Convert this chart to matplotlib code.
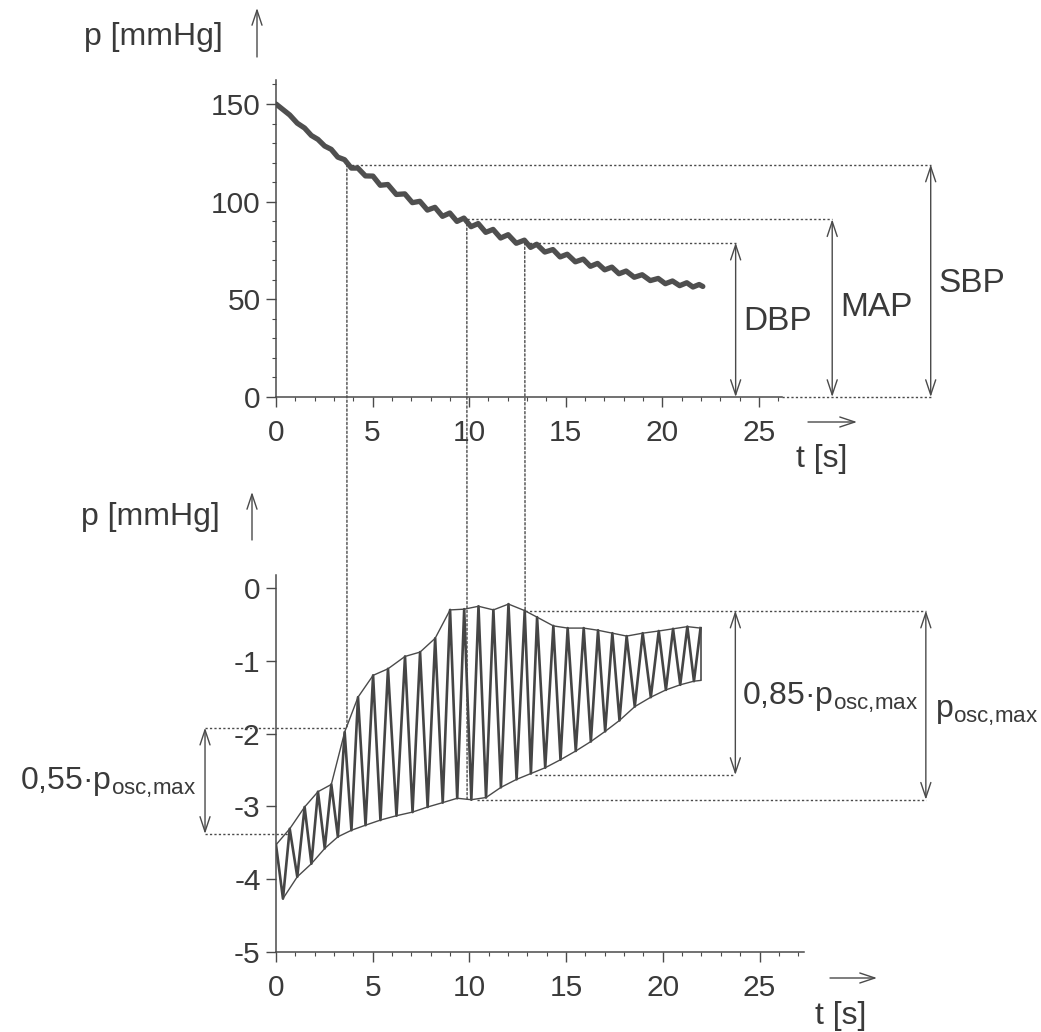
import matplotlib.pyplot as plt
from matplotlib.patches import ConnectionPatch
from matplotlib.ticker import MultipleLocator

plt.rcParams.update({
    "font.family": ["Liberation Sans", "DejaVu Sans"],
    "mathtext.fontset": "custom",
    "mathtext.rm": "Liberation Sans",
    "mathtext.it": "Liberation Sans:italic",
    "mathtext.bf": "Liberation Sans:bold",
    "axes.unicode_minus": False,
})

# ---------------------------------------------------------------- data
# cuff pressure during deflation (top panel), small pulse wiggles included
cuff_t = [0.0, 0.71, 1.10, 1.48, 1.83, 2.17, 2.52, 2.86, 3.20, 3.55, 3.90, 4.24,
          4.63, 5.02, 5.40, 5.79, 6.23, 6.67, 7.06, 7.45, 7.84, 8.23, 8.62, 9.00,
          9.37, 9.73, 10.10, 10.47, 10.86, 11.24, 11.63, 12.02, 12.44, 12.86, 13.18,
          13.50, 13.92, 14.34, 14.71, 15.08, 15.50, 15.91, 16.28, 16.65, 17.02, 17.39,
          17.76, 18.13, 18.55, 18.96, 19.38, 19.79, 20.16, 20.53, 20.90, 21.27, 21.59,
          21.91, 22.10]
cuff_p = [150.0, 144.4, 140.2, 137.7, 133.9, 131.9, 128.5, 126.8, 122.8, 121.5, 117.2,
          117.2, 113.2, 113.1, 108.4, 108.8, 103.7, 104.0, 99.5, 100.2, 95.7, 97.1, 92.5,
          94.2, 89.9, 91.6, 87.2, 88.8, 84.3, 85.8, 81.4, 83.1, 78.7, 80.3, 76.6, 78.2,
          74.2, 75.5, 71.7, 73.1, 69.2, 70.6, 66.9, 68.4, 65.1, 66.5, 63.1, 64.5, 61.3,
          62.6, 59.6, 60.7, 58.0, 59.4, 57.0, 58.5, 56.3, 57.6, 56.6]

# oscillometric pulses (bottom panel)
osc_start = (0.0, -3.53)
peak_t = [0.71, 1.48, 2.17, 2.86, 3.55, 4.24, 5.02, 5.79, 6.67, 7.45, 8.23, 9.00,
          9.73, 10.47, 11.24, 12.02, 12.86, 13.50, 14.34, 15.08, 15.91, 16.65, 17.39,
          18.13, 18.96, 19.79, 20.53, 21.27, 21.95]
peak_p = [-3.31, -3.01, -2.80, -2.70, -1.98, -1.50, -1.20, -1.11, -0.94, -0.88, -0.69,
          -0.30, -0.29, -0.25, -0.30, -0.22, -0.31, -0.40, -0.52, -0.55, -0.55, -0.58,
          -0.62, -0.66, -0.62, -0.59, -0.56, -0.53, -0.55]
trough_t = [0.36, 1.10, 1.83, 2.52, 3.20, 3.90, 4.63, 5.40, 6.23, 7.06, 7.84, 8.62,
            9.37, 10.10, 10.86, 11.63, 12.44, 13.18, 13.92, 14.71, 15.50, 16.28, 17.02,
            17.76, 18.55, 19.38, 20.16, 20.90, 21.61]
trough_p = [-4.27, -3.97, -3.79, -3.58, -3.42, -3.33, -3.26, -3.19, -3.13, -3.08, -3.01,
            -2.95, -2.89, -2.91, -2.88, -2.74, -2.63, -2.55, -2.47, -2.36, -2.24, -2.11,
            -1.97, -1.82, -1.63, -1.50, -1.40, -1.33, -1.28]
low_env_end = -1.27

# read-off times / levels
t_sbp, t_map, t_dbp = 3.67, 9.88, 12.88
sbp, map_, dbp = 119.0, 91.0, 79.0
t_arrow_dbp, t_arrow_map, t_arrow_sbp = 23.8, 28.8, 33.9

osc_055_hi, osc_055_lo = -1.92, -3.38
osc_max_hi, osc_085_lo, osc_max_lo = -0.31, -2.57, -2.91
t_arrow_055, t_arrow_085, t_arrow_max = -3.67, 23.75, 33.6

INK = "#4a4a4a"
TXT = "#3a3a3a"
W, H = 1041, 1032

fig = plt.figure(figsize=(W / 100, H / 100), dpi=100)
fig.patch.set_facecolor("white")


def rect(left, top, right, bottom):
    return [left / W, 1 - bottom / H, (right - left) / W, (bottom - top) / H]


def ftext(px, py, s, **kw):
    fig.text(px / W, 1 - py / H, s, color=TXT, **kw)


def farrow(x0, y0, x1, y1):
    fig.add_artist(plt.Annotation(
        "", xy=(x1 / W, 1 - y1 / H), xytext=(x0 / W, 1 - y0 / H),
        xycoords="figure fraction", textcoords="figure fraction",
        arrowprops=dict(arrowstyle="->,head_length=0.9,head_width=0.3",
                        color=INK, lw=1.0, shrinkA=0, shrinkB=0, mutation_scale=12)))


def style(ax):
    for s in ("top", "right"):
        ax.spines[s].set_visible(False)
    for s in ("left", "bottom"):
        ax.spines[s].set_color(INK)
        ax.spines[s].set_linewidth(1.1)
    ax.patch.set_alpha(0)
    ax.tick_params(which="major", length=7, width=1.0, color=INK,
                   labelsize=21.5, labelcolor=TXT)
    ax.tick_params(which="minor", length=3, width=0.8, color=INK)
    ax.tick_params(axis="x", pad=9)
    ax.tick_params(axis="y", pad=4)
    ax.xaxis.set_major_locator(MultipleLocator(5))
    ax.xaxis.set_minor_locator(MultipleLocator(1))


def dbl_arrow(ax, t, y0, y1):
    ax.annotate("", xy=(t, y1), xytext=(t, y0), annotation_clip=False,
                arrowprops=dict(arrowstyle="<->,head_length=0.9,head_width=0.3",
                                color=INK, lw=1.0, shrinkA=0, shrinkB=0,
                                mutation_scale=12))


dots = dict(color=INK, lw=1.0, ls=(0, (1.6, 1.6)), clip_on=False)
SUB = r"p$_{\text{osc,max}}$"

# ---------------------------------------------------------------- top panel
ax1 = fig.add_axes(rect(276, 80, 782, 397))
style(ax1)
ax1.set_xlim(0, 26.2)
ax1.set_ylim(0, 162.3)
ax1.yaxis.set_major_locator(MultipleLocator(50))
ax1.yaxis.set_minor_locator(MultipleLocator(10))
ax1.plot(cuff_t, cuff_p, color="#4f4f4f", lw=3.8, solid_joinstyle="round",
         solid_capstyle="round")

ax1.plot([t_sbp, t_arrow_sbp], [sbp, sbp], **dots)
ax1.plot([t_map, t_arrow_map], [map_, map_], **dots)
ax1.plot([t_dbp, t_arrow_dbp], [dbp, dbp], **dots)
ax1.plot([26.2, t_arrow_sbp], [0, 0], **dots)
dbl_arrow(ax1, t_arrow_dbp, 0, dbp)
dbl_arrow(ax1, t_arrow_map, 0, map_)
dbl_arrow(ax1, t_arrow_sbp, 0, sbp)
ftext(743, 322, "DBP", fontsize=24, ha="left", va="center")
ftext(840, 308, "MAP", fontsize=24, ha="left", va="center")
ftext(938, 283, "SBP", fontsize=24, ha="left", va="center")

# ---------------------------------------------------------------- bottom panel
ax2 = fig.add_axes(rect(276, 575, 804, 951.7))
style(ax2)
ax2.set_xlim(0, 27.3)
ax2.set_ylim(-5, 0.18)
ax2.yaxis.set_major_locator(MultipleLocator(1))

wave_t, wave_p = [osc_start[0]], [osc_start[1]]
for tt, tp, pt, pp in zip(trough_t, trough_p, peak_t, peak_p):
    wave_t += [tt, pt]
    wave_p += [tp, pp]
ax2.plot(wave_t, wave_p, color="#454545", lw=1.9, solid_joinstyle="round")
ax2.plot([osc_start[0]] + peak_t, [osc_start[1]] + peak_p, color=INK, lw=1.0)
ax2.plot(trough_t + [peak_t[-1]], trough_p + [low_env_end], color=INK, lw=1.0)
ax2.plot([peak_t[-1], peak_t[-1]], [peak_p[-1], low_env_end], color=INK, lw=1.2)

ax2.plot([t_arrow_055, t_sbp], [osc_055_hi, osc_055_hi], **dots)
ax2.plot([t_arrow_055, 0.7], [osc_055_lo, osc_055_lo], **dots)
ax2.plot([t_dbp, t_arrow_max], [osc_max_hi, osc_max_hi], **dots)
ax2.plot([13.4, t_arrow_085], [osc_085_lo, osc_085_lo], **dots)
ax2.plot([10.4, t_arrow_max], [osc_max_lo, osc_max_lo], **dots)
dbl_arrow(ax2, t_arrow_055, osc_055_lo, osc_055_hi)
dbl_arrow(ax2, t_arrow_085, osc_085_lo, osc_max_hi)
dbl_arrow(ax2, t_arrow_max, osc_max_lo, osc_max_hi)

ftext(20, 790, "0,55·" + SUB, fontsize=23, ha="left", va="baseline")
ftext(742, 705, "0,85·" + SUB, fontsize=23, ha="left", va="baseline")
ftext(935, 718, SUB, fontsize=23, ha="left", va="baseline")

# vertical guide lines running through both panels
for t, y_top, y_bot in [(t_sbp, sbp, osc_055_hi), (t_map, map_, osc_max_lo),
                        (t_dbp, dbp, osc_max_hi)]:
    fig.add_artist(ConnectionPatch(xyA=(t, y_top), coordsA=ax1.transData,
                                   xyB=(t, y_bot), coordsB=ax2.transData,
                                   color=INK, lw=1.0, ls=(0, (1.6, 1.6))))

# ---------------------------------------------------------------- axis captions
ftext(223, 37, "p [mmHg]", fontsize=23, ha="right", va="center")
farrow(257, 57, 257, 8)
ftext(220, 517, "p [mmHg]", fontsize=23, ha="right", va="center")
farrow(252, 540, 252, 492)
farrow(808, 422, 857, 422)
ftext(822, 459, "t [s]", fontsize=23, ha="center", va="center")
farrow(830, 978, 877, 978)
ftext(841, 1016, "t [s]", fontsize=23, ha="center", va="center")

fig.savefig("out.png", dpi=100, facecolor="white")
